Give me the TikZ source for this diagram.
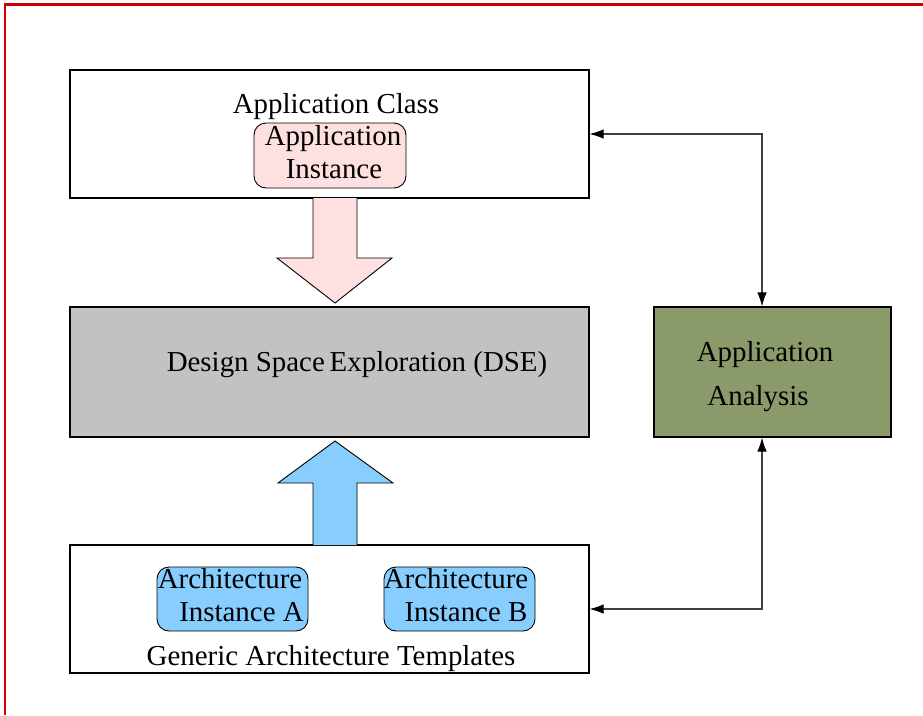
\documentclass[tikz,border=0pt]{standalone}
\usepackage{fontspec}
\setmainfont{Liberation Serif}
\usetikzlibrary{arrows.meta}
\definecolor{instpink}{HTML}{FFE0E0}
\definecolor{archblue}{HTML}{87CEFF}
\definecolor{dsegray}{HTML}{C2C2C2}
\definecolor{anaolive}{HTML}{8A9A6B}
\definecolor{frame}{HTML}{D40000}
\tikzset{
  box/.style={draw=black, line width=1.1pt, rectangle, inner sep=0pt},
  inst/.style={draw=black, line width=0.9pt, rectangle, rounded corners=12pt, inner sep=0pt},
  txt/.style={anchor=base, inner sep=0pt, font=\fontsize{28.9}{33}\selectfont},
  conn/.style={draw=black!75, line width=1.1pt, {Latex[length=14pt,width=9.5pt,color=black]}-{Latex[length=14pt,width=9.5pt,color=black]}},
  blockarrow/.style={draw=black, line width=0.9pt, line join=miter}
}
\begin{document}
\begin{tikzpicture}[x=1pt, y=-1pt]
\useasboundingbox (0,0) rectangle (923,715);
% outer frame (only its left and top edges fall on the page)
\draw[frame, line width=2.2pt] (5,715) -- (5,4.5) -- (923,4.5);

% main blocks
\node[box, minimum width=519pt, minimum height=128pt] (cls) at (329.5,134) {};
\node[box, fill=dsegray, minimum width=519pt, minimum height=130pt] (dse) at (329.5,372) {};
\node[box, minimum width=519pt, minimum height=128pt] (gat) at (329.5,609) {};
\node[box, fill=anaolive, minimum width=237pt, minimum height=130pt] (ana) at (772.5,372) {};

% instances
\node[inst, fill=instpink, minimum width=152pt, minimum height=65pt] (ainst) at (330,155.5) {};
\node[inst, fill=archblue, minimum width=151pt, minimum height=64pt] (archa) at (232.5,599) {};
\node[inst, fill=archblue, minimum width=151pt, minimum height=64pt] (archb) at (459.5,599) {};

% labels
\node[txt] (lcls) at (336,113) {Application Class};
\node[txt] (lai1) at (333,145) {Application};
\node[txt] (lai2) at (334,178) {Instance};
\node[txt] (ldse) at (357,371) {Design Space\,Exploration (DSE)};
\node[txt] (lan1) at (765,361) {Application};
\node[txt] (lan2) at (758,405) {Analysis};
\node[txt] (la1) at (230,588) {Architecture};
\node[txt] (la2) at (241.5,621) {Instance A};
\node[txt] (lb1) at (456,588) {Architecture};
\node[txt] (lb2) at (466,621) {Instance B};
\node[txt] (lgat) at (331,665) {Generic Architecture Templates};

% block arrows into the exploration block
\draw[blockarrow, fill=instpink] (313,198) -- (313,258) -- (277,258) -- (335,303)
  -- (392,258) -- (357,258) -- (357,198);
\draw[blockarrow, fill=archblue] (313,545) -- (313,483) -- (278,483) -- (335,441)
  -- (393,483) -- (357,483) -- (357,545);

% analysis feedback loops
\draw[conn] (cls.east) -| ([xshift=-10.5pt]ana.north);
\draw[conn] (gat.east) -| ([xshift=-10.5pt]ana.south);
\end{tikzpicture}
\end{document}
